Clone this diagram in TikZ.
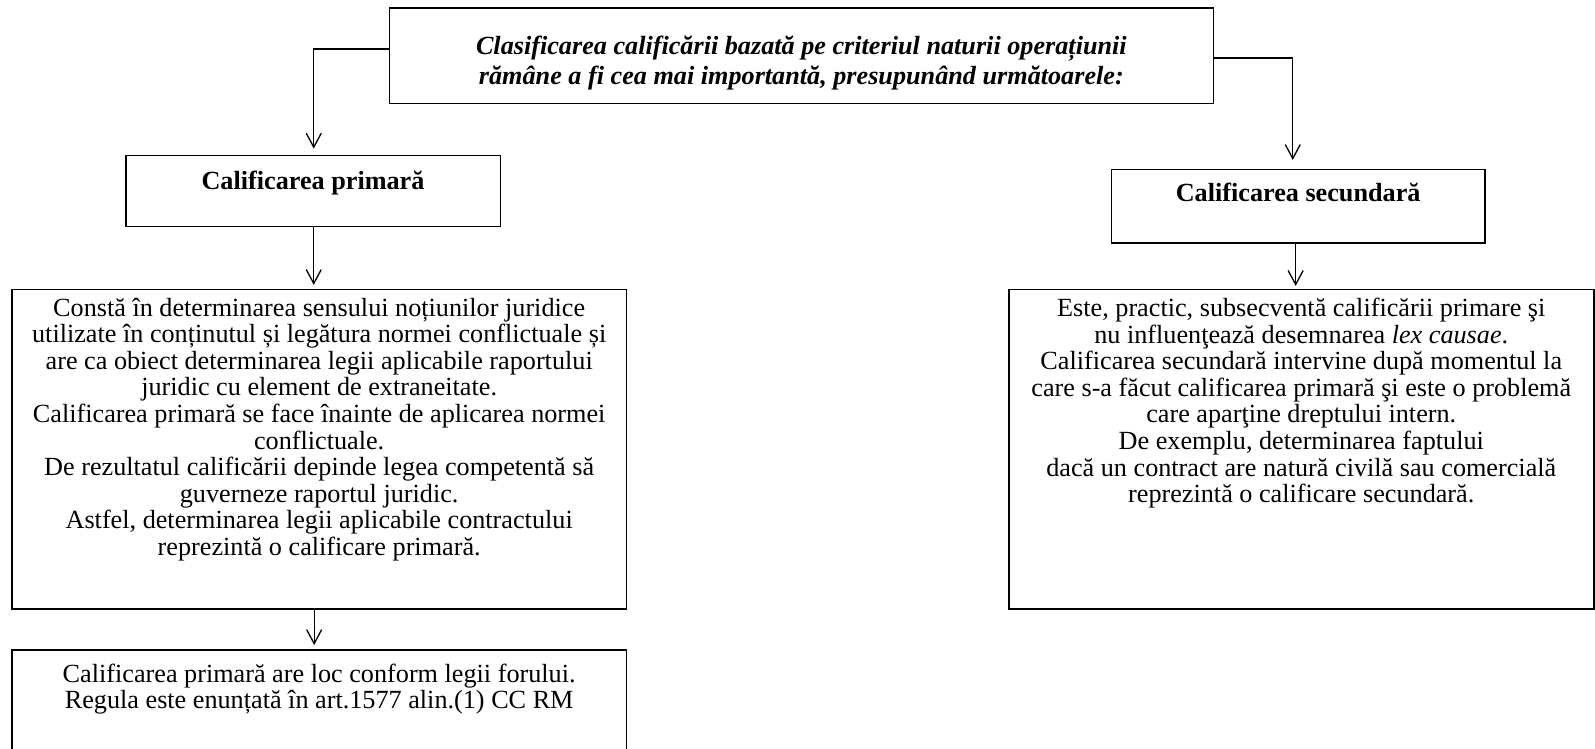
\documentclass[tikz,border=0pt]{standalone}
\usepackage{fontspec}
\setmainfont{Liberation Serif}
\usetikzlibrary{arrows.meta}
\lineskiplimit=-100pt
\lineskip=0pt
\begin{document}
\begin{tikzpicture}[x=1pt,y=-1pt,
  box/.style={draw, line width=1.5pt, inner sep=0pt, anchor=north west},
  arr/.style={line width=1.3pt, -{Straight Barb[length=14pt,width=15pt,line width=1.3pt]}}
]
\useasboundingbox (0,0) rectangle (1595,748);
\node[box] (top) at (388.6,7) {\parbox[c][95.6pt][t]{824pt}{\lineskiplimit=-100pt\centering\fontsize{26.2}{29.5}\selectfont\bfseries\itshape\rule{0pt}{46.8pt}Clasificarea calificării bazată pe criteriul naturii operațiunii\\ rămâne a fi cea mai importantă, presupunând următoarele:}};
\node[box] (prim) at (125,154.6) {\parbox[c][71.2pt][t]{374.5pt}{\centering\fontsize{26.2}{29.5}\selectfont\bfseries\rule{0pt}{34.5pt}Calificarea primară}};
\node[box] (sec) at (1110.8,168.9) {\parbox[c][73.1pt][t]{373.2pt}{\centering\fontsize{26.2}{29.5}\selectfont\bfseries\rule{0pt}{32pt}Calificarea secundară}};
\node[box] (lbig) at (11.2,288.9) {\parbox[c][319.4pt][t]{614.4pt}{\lineskiplimit=-100pt\centering\fontsize{26.2}{26.6}\selectfont\rule{0pt}{26.5pt}Constă în determinarea sensului noțiunilor juridice\\
utilizate în conținutul și legătura normei conflictuale și\\
are ca obiect determinarea legii aplicabile raportului\\
juridic cu element de extraneitate.\\
Calificarea primară se face înainte de aplicarea normei\\
conflictuale.\\
De rezultatul calificării depinde legea competentă să\\
guverneze raportul juridic.\\
Astfel, determinarea legii aplicabile contractului\\
reprezintă o calificare primară.}};
\node[box] (rbig) at (1008,288.9) {\parbox[c][319.4pt][t]{585pt}{\lineskiplimit=-100pt\centering\fontsize{26.2}{26.6}\selectfont\rule{0pt}{26.8pt}Este, practic, subsecventă calificării primare şi\\
nu influenţează desemnarea \textit{lex causae}.\\
Calificarea secundară intervine după momentul la\\
care s-a făcut calificarea primară şi este o problemă\\
care aparţine dreptului intern.\\
De exemplu, determinarea faptului\\
dacă un contract are natură civilă sau comercială\\
reprezintă o calificare secundară.}};
\node[box] (bot) at (11.2,649) {\parbox[c][110pt][t]{614.4pt}{\lineskiplimit=-100pt\centering\fontsize{26.2}{26.6}\selectfont\rule{0pt}{32.5pt}Calificarea primară are loc conform legii forului.\\
Regula este enunțată în art.1577 alin.(1) CC RM}};
\draw[arr] ([yshift=-42pt]top.north west) -| ([xshift=0.75pt,yshift=6pt]prim.north);
\draw[arr] ([yshift=-51pt]top.north east) -| ([xshift=-5.4pt,yshift=9pt]sec.north);
\draw[arr, shorten >=4pt] ([xshift=0.75pt]prim.south) -- ([xshift=0.75pt]prim.south |- lbig.north);
\draw[arr, shorten >=3pt] ([xshift=-2.5pt]sec.south) -- ([xshift=-2.5pt]sec.south |- rbig.north);
\draw[arr, shorten >=4pt] ([xshift=-5pt]lbig.south) -- ([xshift=-5pt]lbig.south |- bot.north);
\end{tikzpicture}
\end{document}
